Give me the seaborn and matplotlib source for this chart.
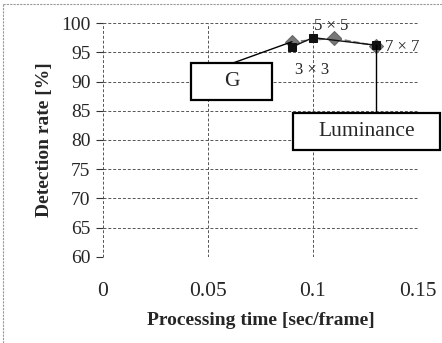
import matplotlib
matplotlib.use("Agg")
import matplotlib.pyplot as plt
import seaborn as sns
import pandas as pd
from matplotlib.patches import Rectangle
from matplotlib.lines import Line2D

# Detection rate vs processing time for two input channels
g_time = [0.09, 0.11, 0.13]
g_rate = [96.8, 97.4, 96.1]
lum_time = [0.09, 0.10, 0.13]
lum_rate = [95.9, 97.5, 96.2]
filter_labels = ["3 × 3", "5 × 5", "7 × 7"]

df_g = pd.DataFrame({"time": g_time, "rate": g_rate})
df_l = pd.DataFrame({"time": lum_time, "rate": lum_rate})

sns.set_style("white")
plt.rcParams["font.family"] = ["Liberation Serif", "DejaVu Serif"]

W, H = 442, 343
fig = plt.figure(figsize=(W / 100, H / 100), dpi=100)
ax = fig.add_axes([103 / W, 1 - 257 / H, 315 / W, 234 / H])

sns.lineplot(data=df_g, x="time", y="rate", ax=ax, color="#777777", linestyle="--",
             marker="D", markersize=7, markeredgecolor="#666666", linewidth=1.2)
sns.lineplot(data=df_l, x="time", y="rate", ax=ax, color="#111111",
             marker="s", markersize=5.5, markeredgecolor="#111111", linewidth=1.0)

ax.set_xlim(0, 0.15)
ax.set_ylim(60, 100)
ax.set_xticks([0, 0.05, 0.1, 0.15])
ax.set_xticklabels(["0", "0.05", "0.1", "0.15"])
ax.set_yticks(range(60, 101, 5))
ax.grid(True, linestyle=(0, (3, 2)), color="#555555", linewidth=0.7)
for s in ax.spines.values():
    s.set_visible(False)
ax.tick_params(axis="x", length=0, pad=18, labelsize=15.5)
ax.tick_params(axis="y", length=5, width=0.8, pad=4, labelsize=14, left=True, color="#333333")

ax.set_xlabel("Processing time [sec/frame]", fontsize=14, fontweight="bold", labelpad=8)
ax.set_ylabel("Detection rate [%]", fontsize=14, fontweight="bold", labelpad=6)

# filter size labels
ax.text(0.0915, 91.9, filter_labels[0], fontsize=12, ha="left", va="center")
ax.text(0.1005, 99.5, filter_labels[1], fontsize=12, ha="left", va="center")
ax.text(0.1345, 95.9, filter_labels[2], fontsize=12, ha="left", va="center")

# callout boxes (figure pixel coords, origin top-left)
def px(x, y):
    return x / W, 1 - y / H

def callout(label, x0, y0, x1, y1, anchor, target):
    fig.add_artist(Rectangle(px(x0, y1), (x1 - x0) / W, (y1 - y0) / H,
                             transform=fig.transFigure, fc="white", ec="black", lw=1.6, zorder=5))
    cx, cy = px((x0 + x1) / 2, (y0 + y1) / 2)
    fig.text(cx, cy, label, fontsize=15.5, ha="center", va="center", zorder=6)
    tx, ty = fig.transFigure.inverted().transform(ax.transData.transform(target))
    ax_x, ax_y = px(*anchor)
    fig.add_artist(Line2D([ax_x, tx], [ax_y, ty], transform=fig.transFigure,
                          color="black", lw=1.0, zorder=4))

callout("G", 191, 63, 272, 100, (233, 63), (g_time[0], g_rate[0]))
callout("Luminance", 293, 113, 440, 150, (376, 113), (lum_time[2], lum_rate[2]))

# chart-area frame
fig.add_artist(Line2D([3 / W, 3 / W], [0, 1 - 4 / H], transform=fig.transFigure,
                      color="#999999", lw=0.8, linestyle=(0, (2, 1))))
fig.add_artist(Line2D([3 / W, 1], [1 - 4 / H, 1 - 4 / H], transform=fig.transFigure,
                      color="#999999", lw=0.8, linestyle=(0, (2, 1))))

fig.savefig("out.png", dpi=100)
